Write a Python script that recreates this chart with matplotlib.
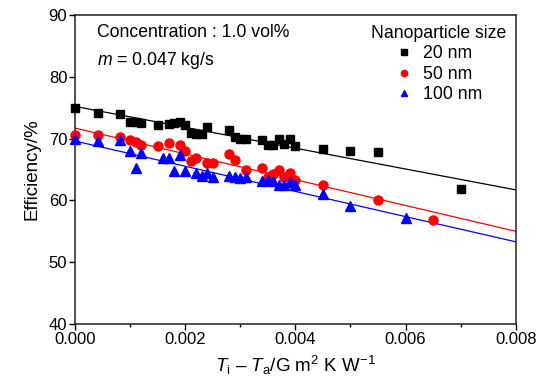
import numpy as np
import matplotlib
matplotlib.use("Agg")
import matplotlib.pyplot as plt

plt.rcParams['font.family'] = ['Liberation Sans', 'DejaVu Sans']
plt.rcParams['mathtext.fontset'] = 'custom'
plt.rcParams['mathtext.rm'] = 'Liberation Sans'
plt.rcParams['mathtext.it'] = 'Liberation Sans:italic'

# ---- data ----
x20 = [0.0000, 0.00041, 0.00082, 0.0010, 0.0011, 0.0012, 0.0015, 0.0017, 0.0018, 0.0019,
       0.0020, 0.0021, 0.0022, 0.0023, 0.0024, 0.0028, 0.0029, 0.0030, 0.0031, 0.0034,
       0.0035, 0.0036, 0.0037, 0.0038, 0.0039, 0.0040, 0.0045, 0.0050, 0.0055, 0.0070]
y20 = [75.0, 74.1, 73.9, 72.7, 72.6, 72.5, 72.2, 72.4, 72.5, 72.6,
       72.2, 70.9, 70.7, 70.7, 71.8, 71.4, 70.2, 70.0, 70.0, 69.8,
       68.9, 69.0, 69.9, 69.1, 69.9, 68.8, 68.3, 68.0, 67.9, 61.8]

x50 = [0.0000, 0.00041, 0.00082, 0.0010, 0.0011, 0.0012, 0.0015, 0.0017, 0.0019, 0.0020,
       0.0021, 0.0022, 0.0024, 0.0025, 0.0028, 0.0029, 0.0031, 0.0034, 0.0035, 0.0036,
       0.0037, 0.0038, 0.0039, 0.0040, 0.0045, 0.0055, 0.0065]
y50 = [70.6, 70.5, 70.3, 69.8, 69.4, 68.9, 68.8, 69.3, 68.9, 68.0,
       66.4, 66.8, 66.0, 66.0, 67.5, 66.5, 64.9, 65.2, 63.8, 64.2,
       64.9, 63.8, 64.4, 63.3, 62.5, 60.1, 56.8]

x100 = [0.0000, 0.00041, 0.00082, 0.0010, 0.0011, 0.0012, 0.0016, 0.0017, 0.0018, 0.0019,
        0.0020, 0.0022, 0.0023, 0.0024, 0.0025, 0.0028, 0.0029, 0.0030, 0.0031, 0.0034,
        0.0035, 0.0036, 0.0037, 0.0038, 0.0039, 0.0040, 0.0045, 0.0050, 0.0060]
y100 = [69.9, 69.6, 69.8, 68.0, 65.2, 67.6, 66.9, 66.9, 64.8, 67.3,
        64.8, 64.4, 64.0, 64.5, 63.8, 64.0, 63.8, 63.7, 63.8, 63.1,
        63.3, 63.1, 62.5, 62.5, 63.0, 62.5, 61.0, 59.1, 57.2]

# linear fit lines as drawn (value at x=0 and at x=0.008)
fit_x = [0.0, 0.008]
fit20 = [75.2, 61.7]
fit50 = [71.7, 55.0]
fit100 = [69.6, 53.3]

labels = ['20 nm', '50 nm', '100 nm']

fig = plt.figure(figsize=(5.39, 3.83), dpi=100)
ax = fig.add_axes([0.139, 0.154, 0.818, 0.807])

ax.plot(fit_x, fit20, color='black', lw=0.9, zorder=1)
ax.plot(fit_x, fit50, color='red', lw=0.9, zorder=1)
ax.plot(fit_x, fit100, color='blue', lw=0.9, zorder=1)

ax.plot(x20, y20, 's', color='black', ms=5.8, label=labels[0], clip_on=False, zorder=3)
ax.plot(x50, y50, 'o', color='red', ms=6.5, label=labels[1], clip_on=False, zorder=3)
ax.plot(x100, y100, '^', color='blue', ms=6.5, label=labels[2], clip_on=False, zorder=3)

ax.set_xlim(0, 0.008)
ax.set_ylim(40, 90)
ax.set_xticks([0.000, 0.002, 0.004, 0.006, 0.008])
ax.set_xticklabels(['0.000', '0.002', '0.004', '0.006', '0.008'])
ax.set_xticks([0.001, 0.003, 0.005, 0.007], minor=True)
ax.set_yticks([40, 50, 60, 70, 80, 90])
ax.tick_params(axis='both', which='major', direction='out', length=4, width=1, labelsize=12, pad=1.5)
ax.tick_params(axis='x', which='minor', direction='out', length=2.5, width=1)
for s in ax.spines.values():
    s.set_linewidth(1.1)
    s.set_color('#222222')

ax.set_xlabel(r'$T_\mathrm{i}$ – $T_\mathrm{a}$/G m$^2$ K W$^{-1}$', fontsize=13.5, labelpad=5)
ax.set_ylabel('Efficiency/%', fontsize=13.5, labelpad=6)

ax.text(0.05, 0.972, 'Concentration : 1.0 vol%', transform=ax.transAxes,
        fontsize=12.7, va='top', ha='left')
ax.text(0.05, 0.885, r'$m$ = 0.047 kg/s', transform=ax.transAxes,
        fontsize=12.7, va='top', ha='left')

leg = ax.legend(title='Nanoparticle size', loc='upper right', frameon=False,
                fontsize=12.7, title_fontsize=12.7, handletextpad=0.6, labelspacing=0.2,
                borderaxespad=0.15, markerscale=0.7, handlelength=1.0,
                bbox_to_anchor=(1.0, 1.0))

fig.savefig('out.png', dpi=100)
